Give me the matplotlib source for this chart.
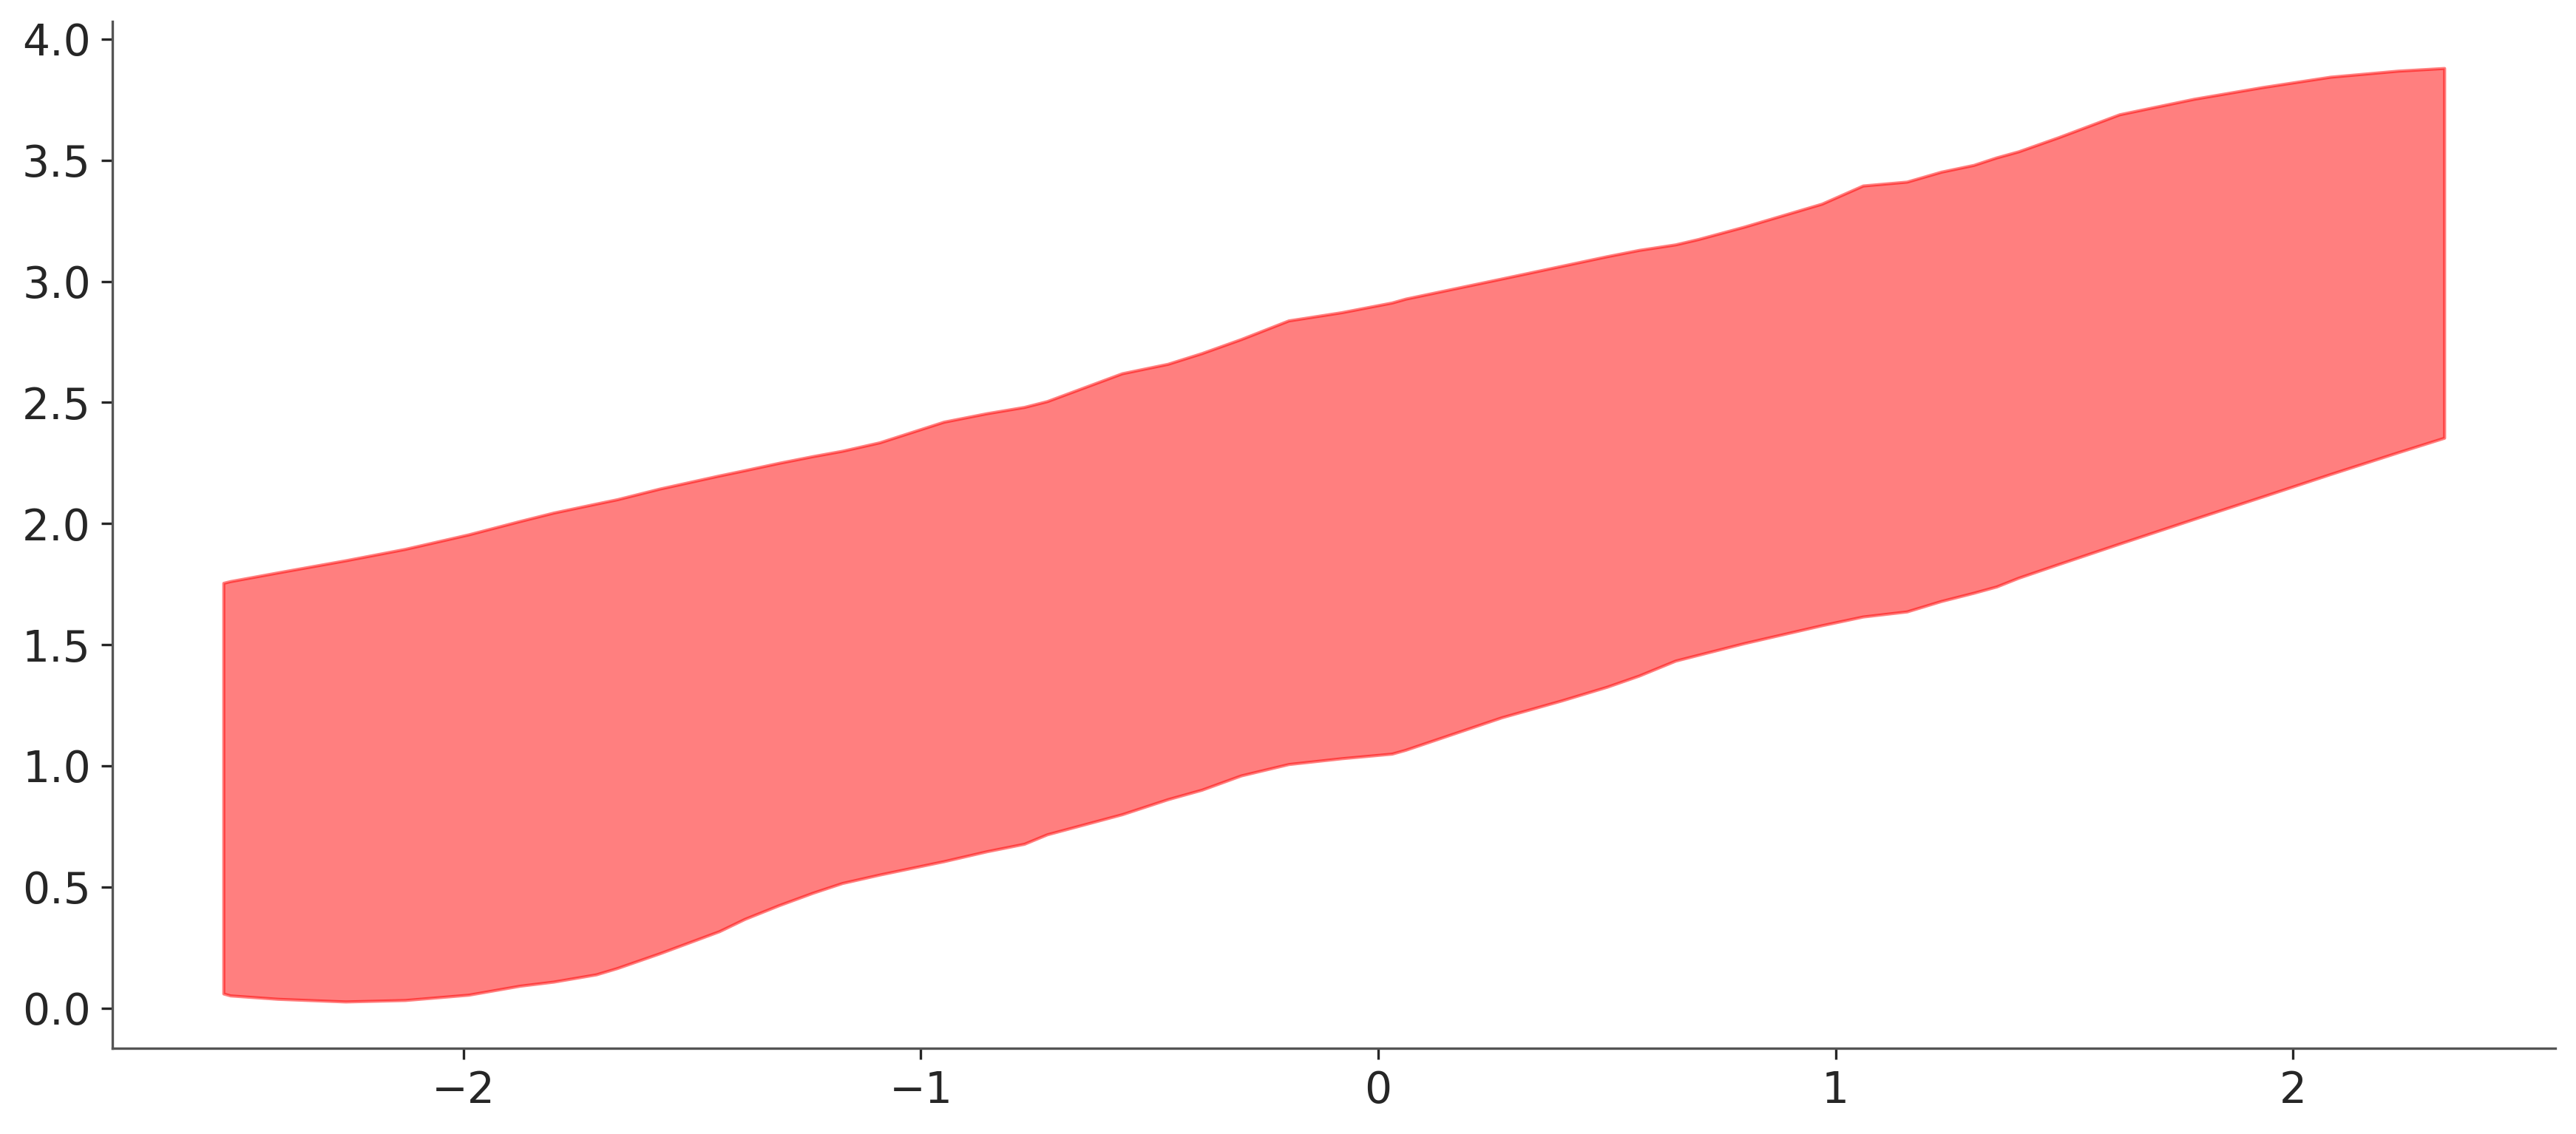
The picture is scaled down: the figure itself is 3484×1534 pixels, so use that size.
import matplotlib.pyplot as plt
import numpy as np


# band edges (x, upper, lower)
X_VALUES = [
    -2.525, -2.51, -2.406, -2.258, -2.128, -1.989, -1.877, -1.803, -1.71, -1.664,
    -1.571, -1.441, -1.385, -1.311, -1.236, -1.172, -1.09, -0.95, -0.856, -0.774,
    -0.724, -0.56, -0.46, -0.386, -0.3, -0.196, -0.08, 0.03, 0.06, 0.27,
    0.4, 0.5, 0.57, 0.65, 0.7, 0.8, 0.97, 1.06, 1.156, 1.231,
    1.302, 1.352, 1.40, 1.487, 1.621, 1.784, 1.933, 2.082, 2.230, 2.331,
]
UPPER = [
    1.755, 1.762, 1.798, 1.848, 1.895, 1.955, 2.010, 2.045, 2.082, 2.100,
    2.144, 2.198, 2.220, 2.250, 2.278, 2.300, 2.335, 2.420, 2.455, 2.481,
    2.505, 2.620, 2.659, 2.703, 2.761, 2.838, 2.872, 2.912, 2.928, 3.011,
    3.063, 3.103, 3.129, 3.152, 3.174, 3.225, 3.320, 3.395, 3.411, 3.452,
    3.480, 3.511, 3.536, 3.594, 3.689, 3.753, 3.801, 3.844, 3.869, 3.880,
]
LOWER = [
    0.060, 0.052, 0.038, 0.027, 0.033, 0.055, 0.092, 0.109, 0.139, 0.165,
    0.226, 0.317, 0.368, 0.424, 0.476, 0.516, 0.551, 0.606, 0.647, 0.678,
    0.717, 0.800, 0.862, 0.901, 0.960, 1.007, 1.031, 1.050, 1.066, 1.200,
    1.269, 1.326, 1.372, 1.434, 1.458, 1.506, 1.580, 1.616, 1.637, 1.680,
    1.714, 1.740, 1.776, 1.832, 1.917, 2.019, 2.111, 2.204, 2.294, 2.354,
]

TEXT_COLOR = "#262626"
SPINE_COLOR = "#555555"


def main():
    x = np.array(X_VALUES)
    upper = np.array(UPPER)
    lower = np.array(LOWER)

    fig = plt.figure(figsize=(3484 / 300, 1534 / 300), dpi=300)
    ax = fig.add_axes([152 / 3484, 1 - 1418 / 1534, (3456 - 152) / 3484, (1418 - 29) / 1534])

    ax.fill_between(x, lower, upper, color="red", alpha=0.5, linewidth=1.0)

    ax.set_yticks(np.arange(0, 4.01, 0.5))
    ax.set_xticks([-2, -1, 0, 1, 2])

    for side in ("top", "right"):
        ax.spines[side].set_visible(False)
    for side in ("left", "bottom"):
        ax.spines[side].set_color(SPINE_COLOR)
        ax.spines[side].set_linewidth(0.8)

    ax.tick_params(
        axis="both",
        labelsize=14,
        colors=TEXT_COLOR,
        labelcolor=TEXT_COLOR,
        length=3.5,
        width=0.8,
    )

    fig.savefig("out.png", dpi=300)
    plt.close(fig)


if __name__ == "__main__":
    main()
